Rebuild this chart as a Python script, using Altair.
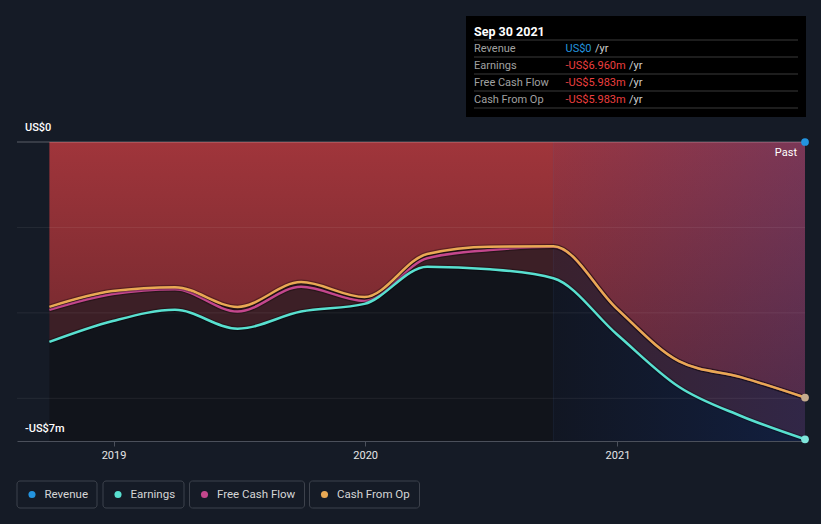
import altair as alt
import pandas as pd

# ---------------- data ----------------
dates = ["2018-09-30", "2018-12-31", "2019-03-31", "2019-06-30", "2019-09-30",
         "2019-12-31", "2020-03-31", "2020-06-30", "2020-09-30", "2020-12-31",
         "2021-03-31", "2021-06-30", "2021-09-30"]
revenue = [0, 0, 0, 0, 0, 0, 0, 0, 0, 0, 0, 0, 0]
earnings = [-4.68, -4.19, -3.93, -4.37, -3.97, -3.79, -2.92, -2.98, -3.19, -4.50, -5.73, -6.42, -6.96]
free_cash_flow = [-3.93, -3.56, -3.45, -3.97, -3.39, -3.72, -2.72, -2.53, -2.45, -3.90, -5.13, -5.51, -5.983]
cash_from_op = [-3.86, -3.49, -3.40, -3.86, -3.28, -3.63, -2.62, -2.45, -2.44, -3.90, -5.13, -5.51, -5.983]

series_names = ["Revenue", "Earnings", "Free Cash Flow", "Cash From Op"]
series_colors = ["#2394df", "#58e0d0", "#c4478d", "#e9a954"]
y_label_values = [0, -7]
y_label_texts = ["US$0", "-US$7m"]
grid_values = [-2, -4, -6]
x_tick_dates = ["2019-01-01", "2020-01-01", "2021-01-01"]
x_domain_dates = ["2018-08-14", "2021-09-30"]
past_start = "2020-09-30"
tooltip_date = "Sep 30 2021"
y_min, y_max = -7, 0


def ms(s):
    return int(pd.Timestamp(s, tz="UTC").value // 10**6)


df = pd.DataFrame({"date": [ms(d) for d in dates], "Revenue": revenue, "Earnings": earnings,
                   "FCF": free_cash_flow, "CFO": cash_from_op})
df["top"] = y_max
df["floor"] = y_min
last = df.iloc[[-1]]

# ---------------- layout constants ----------------
W, H = 788, 299
BG = "#151b26"
FONT = "Roboto"

# approximate Roboto advance widths (em) used to place "/yr" after each value
CHAR_EM = {"-": 0.27, "U": 0.637, "S": 0.594, "$": 0.562, ".": 0.263, "m": 0.876}


def text_width(s, size):
    return sum(CHAR_EM.get(c, 0.562) for c in s) * size


xscale = alt.Scale(domain=[ms(d) for d in x_domain_dates])
xaxis = alt.Axis(values=[ms(d) for d in x_tick_dates],
                 format="%Y", title=None, labelColor="#e6e6e6", labelFontSize=11,
                 labelFont=FONT, tickColor="#4b505b", domainColor="#4b505b",
                 tickSize=5, labelPadding=3, grid=False, labelFlush=False)
yscale = alt.Scale(domain=[y_min, y_max], nice=False, zero=False)
X = alt.X("date:T", scale=xscale, axis=xaxis)


def Y(field):
    return alt.Y(field, scale=yscale, axis=None)


dummy = pd.DataFrame({"a": [0]})

red_grad = alt.LinearGradient(gradient="linear",
                              stops=[alt.GradientStop(color="#a0353b", offset=0),
                                     alt.GradientStop(color="#69262c", offset=1)],
                              x1=0, x2=0, y1=0, y2=1)
past_grad = alt.LinearGradient(gradient="linear",
                               stops=[alt.GradientStop(color="rgba(20,60,160,0.06)", offset=0),
                                      alt.GradientStop(color="rgba(20,60,160,0.27)", offset=1)],
                               x1=0, x2=1, y1=0, y2=0)

layers = []

# area below earnings
layers.append(alt.Chart(df).mark_area(color="#11141b", interpolate="monotone").encode(
    x=X, y=Y("Earnings:Q"), y2="floor:Q"))
# red area from zero to cash from op
layers.append(alt.Chart(df).mark_area(color=red_grad, interpolate="monotone").encode(
    x=X, y=Y("CFO:Q"), y2="top:Q"))
# band between cash from op and earnings
layers.append(alt.Chart(df).mark_area(color="#3c1f26", interpolate="monotone").encode(
    x=X, y=Y("CFO:Q"), y2="Earnings:Q"))
# past-year highlight
hl = pd.DataFrame({"date": [ms(past_start)], "end": [ms(dates[-1])], "top": [y_max], "floor": [y_min]})
layers.append(alt.Chart(hl).mark_rect(color=past_grad).encode(
    x=X, x2="end:T", y=Y("top:Q"), y2="floor:Q"))
layers.append(alt.Chart(hl).mark_rule(color="#4a6aa8", opacity=0.12, strokeWidth=1).encode(x=X))
# grid
layers.append(alt.Chart(pd.DataFrame({"v": grid_values})).mark_rule(
    color="#ffffff", opacity=0.07, strokeWidth=1).encode(y=Y("v:Q")))
layers.append(alt.Chart(pd.DataFrame({"v": [y_max]})).mark_rule(
    color="#ffffff", opacity=0.3, strokeWidth=1).encode(y=Y("v:Q")))

# lines
for field, col in [("FCF", series_colors[2]), ("CFO", series_colors[3]), ("Earnings", series_colors[1])]:
    layers.append(alt.Chart(df).mark_line(color="#000000", opacity=0.3, strokeWidth=5,
                                          interpolate="monotone").encode(x=X, y=Y(f"{field}:Q")))
    layers.append(alt.Chart(df).mark_line(color=col, strokeWidth=2.5,
                                          interpolate="monotone").encode(x=X, y=Y(f"{field}:Q")))

# end dots
for field, col in [("Revenue", series_colors[0]), ("CFO", "#c5ab8e"), ("Earnings", "#7fe6dc")]:
    layers.append(alt.Chart(last).mark_circle(color=col, opacity=1, size=60).encode(
        x=X, y=Y(f"{field}:Q")))

# y labels (sit just above their value line)
for v, t, dy in zip(y_label_values, y_label_texts, [-14, -12]):
    layers.append(alt.Chart(pd.DataFrame({"v": [v], "t": [t]})).mark_text(
        align="left", baseline="middle", dy=dy, color="#ffffff", fontSize=11, font=FONT,
        fontWeight=500).encode(x=alt.value(8), y=Y("v:Q"), text="t:N"))

# Past label
layers.append(alt.Chart(dummy).mark_text(
    align="right", baseline="middle", color="#ffffff", fontSize=11, font=FONT,
    text="Past").encode(x=alt.value(780), y=alt.value(11)))

# ---------------- tooltip box ----------------
layers.append(alt.Chart(dummy).mark_rect(color="#000000").encode(
    x=alt.value(449), x2=alt.value(789), y=alt.value(-126), y2=alt.value(-25)))
layers.append(alt.Chart(dummy).mark_text(
    align="left", baseline="middle", color="#ffffff", fontSize=12.5, font=FONT,
    fontWeight="bold", text=tooltip_date).encode(x=alt.value(457), y=alt.value(-110.5)))

last_vals = [revenue[-1], earnings[-1], free_cash_flow[-1], cash_from_op[-1]]


def fmt(v):
    if v == 0:
        return "US$0"
    return ("-" if v < 0 else "") + f"US${abs(v):.3f}m"


TT_SIZE = 11
for i, (name, v) in enumerate(zip(series_names, last_vals)):
    yy = -93.5 + 17 * i
    layers.append(alt.Chart(dummy).mark_rule(color="#3a3a3a", strokeWidth=1).encode(
        x=alt.value(457), x2=alt.value(781), y=alt.value(yy - 8.5)))
    layers.append(alt.Chart(dummy).mark_text(
        align="left", baseline="middle", color="#a0a0a0", fontSize=TT_SIZE, font=FONT,
        text=name).encode(x=alt.value(457), y=alt.value(yy)))
    vs = fmt(v)
    layers.append(alt.Chart(dummy).mark_text(
        align="left", baseline="middle", color=("#2394df" if v == 0 else "#ec3f3f"),
        fontSize=TT_SIZE, font=FONT, text=vs).encode(x=alt.value(548.5), y=alt.value(yy)))
    layers.append(alt.Chart(dummy).mark_text(
        align="left", baseline="middle", color="#cfcfcf", fontSize=TT_SIZE, font=FONT,
        text="/yr").encode(x=alt.value(548.5 + text_width(vs, TT_SIZE) + 3.5), y=alt.value(yy)))
layers.append(alt.Chart(dummy).mark_rule(color="#3a3a3a", strokeWidth=1).encode(
    x=alt.value(457), x2=alt.value(781), y=alt.value(-93.5 + 17 * 4 - 8.5)))

# ---------------- legend ----------------
leg_left = [0, 86, 172.5, 292.5]
leg_right = [80, 167, 287.5, 402.5]
for name, col, l, r in zip(series_names, series_colors, leg_left, leg_right):
    layers.append(alt.Chart(dummy).mark_rect(fill=BG, stroke="#3d424c", strokeWidth=1,
                                             cornerRadius=3).encode(
        x=alt.value(l), x2=alt.value(r), y=alt.value(339), y2=alt.value(366)))
    layers.append(alt.Chart(dummy).mark_circle(color=col, opacity=1, size=50).encode(
        x=alt.value(l + 15), y=alt.value(352.5)))
    layers.append(alt.Chart(dummy).mark_text(
        align="left", baseline="middle", color="#d6d6d6", fontSize=11.5, font=FONT,
        text=name).encode(x=alt.value(l + 27.5), y=alt.value(353)))

chart = alt.layer(*layers).properties(
    width=W, height=H,
    padding={"left": 17, "top": 142, "right": 16, "bottom": 83},
    autosize=alt.AutoSizeParams(type="none"),
    background=BG,
).configure_view(stroke=None)

chart.save("out.html", embed_options={"renderer": "svg", "actions": False})
